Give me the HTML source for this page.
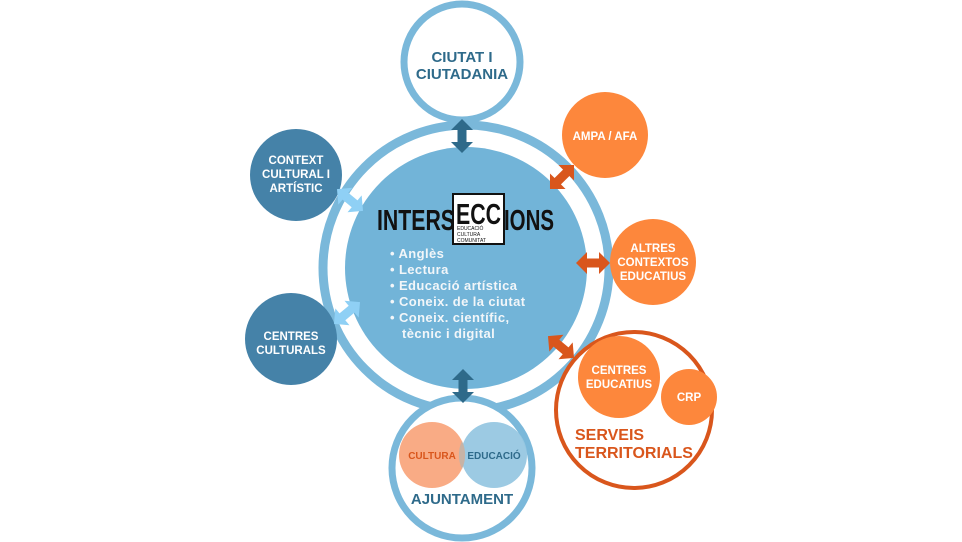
<!DOCTYPE html>
<html><head><meta charset="utf-8"><style>
html,body{margin:0;padding:0;background:#fff;width:962px;height:542px;overflow:hidden}
svg{display:block}
text{font-family:"Liberation Sans",sans-serif;font-weight:bold}
</style></head><body>
<svg width="962" height="542" viewBox="0 0 962 542">
<defs>
<g id="dar"><polygon points="0,-17 11,-6 4.5,-6 4.5,6 11,6 0,17 -11,6 -4.5,6 -4.5,-6 -11,-6" stroke-linejoin="round"/></g>
</defs>
<circle cx="466" cy="268" r="143" fill="#fff" stroke="#7ab8da" stroke-width="9"/>
<circle cx="466" cy="268" r="121" fill="#72b4d8"/>
<circle cx="462" cy="62" r="58" fill="#fff" stroke="#7ab8da" stroke-width="7"/>
<text x="462" y="62" text-anchor="middle" font-size="15" fill="#2e6a8a">CIUTAT I</text>
<text x="462" y="79" text-anchor="middle" font-size="15" fill="#2e6a8a">CIUTADANIA</text>
<circle cx="462" cy="468" r="70" fill="#fff" stroke="#7ab8da" stroke-width="7"/>
<circle cx="432" cy="455" r="33" fill="#f9ab85"/>
<circle cx="494" cy="455" r="33" fill="#97c7e2" fill-opacity="0.95"/>
<path d="M462,441 A33,33 0 0 1 462,469 A33,33 0 0 1 462,441Z" fill="#c7b3a6"/>
<text x="432" y="459" text-anchor="middle" font-size="10" fill="#d9561c">CULTURA</text>
<text x="494" y="459" text-anchor="middle" font-size="10" fill="#2e6a8a">EDUCACIÓ</text>
<text x="462" y="504" text-anchor="middle" font-size="15" fill="#2e6a8a">AJUNTAMENT</text>
<circle cx="296" cy="175" r="46" fill="#4582a8"/>
<text x="296" y="164" text-anchor="middle" font-size="11.5" fill="#fff">CONTEXT</text>
<text x="296" y="178" text-anchor="middle" font-size="11.5" fill="#fff">CULTURAL I</text>
<text x="296" y="192" text-anchor="middle" font-size="11.5" fill="#fff">ARTÍSTIC</text>
<circle cx="291" cy="339" r="46" fill="#4582a8"/>
<text x="291" y="340" text-anchor="middle" font-size="11.5" fill="#fff">CENTRES</text>
<text x="291" y="354" text-anchor="middle" font-size="11.5" fill="#fff">CULTURALS</text>
<circle cx="605" cy="135" r="43" fill="#fd873c"/>
<text x="605" y="140" text-anchor="middle" font-size="11.5" fill="#fff">AMPA / AFA</text>
<circle cx="653" cy="262" r="43" fill="#fd873c"/>
<text x="653" y="252" text-anchor="middle" font-size="11.5" fill="#fff">ALTRES</text>
<text x="653" y="266" text-anchor="middle" font-size="11.5" fill="#fff">CONTEXTOS</text>
<text x="653" y="280" text-anchor="middle" font-size="11.5" fill="#fff">EDUCATIUS</text>
<circle cx="634" cy="410" r="78" fill="#fff" stroke="#d9561c" stroke-width="4"/>
<circle cx="619" cy="377" r="41" fill="#fd873c"/>
<text x="619" y="374" text-anchor="middle" font-size="11.5" fill="#fff">CENTRES</text>
<text x="619" y="388" text-anchor="middle" font-size="11.5" fill="#fff">EDUCATIUS</text>
<circle cx="689" cy="397" r="28" fill="#fd873c"/>
<text x="689" y="401" text-anchor="middle" font-size="11.5" fill="#fff">CRP</text>
<text x="575" y="440" font-size="16" fill="#d9561c">SERVEIS</text>
<text x="575" y="458" font-size="16" fill="#d9561c">TERRITORIALS</text>
<use href="#dar" transform="translate(462,136)" fill="#2e6a8a"/>
<use href="#dar" transform="translate(463,386)" fill="#2e6a8a"/>
<use href="#dar" transform="translate(350,200) rotate(-50)" fill="#8fd0f5"/>
<use href="#dar" transform="translate(347,313) rotate(50)" fill="#8fd0f5"/>
<use href="#dar" transform="translate(562,177) rotate(45)" fill="#d9561c"/>
<use href="#dar" transform="translate(593,263) rotate(90)" fill="#d9561c"/>
<use href="#dar" transform="translate(561,347) rotate(-50)" fill="#d9561c"/>
<text x="377" y="230" font-size="29" fill="#111" textLength="78" lengthAdjust="spacingAndGlyphs">INTERS</text>
<text x="504" y="230" font-size="29" fill="#111" textLength="50" lengthAdjust="spacingAndGlyphs">IONS</text>
<rect x="453" y="194" width="51" height="50" fill="#fff" stroke="#111" stroke-width="2"/>
<text x="456" y="224" font-size="29" fill="#111" textLength="45" lengthAdjust="spacingAndGlyphs">ECC</text>
<text x="457" y="230" font-size="5" fill="#111" style="font-weight:normal">EDUCACIÓ</text>
<text x="457" y="236" font-size="5" fill="#111" style="font-weight:normal">CULTURA</text>
<text x="457" y="242" font-size="5" fill="#111" style="font-weight:normal">COMUNITAT</text>
<g font-size="13" fill="#f2f6f9" letter-spacing="0.4">
<text x="390" y="258">• Anglès</text>
<text x="390" y="274">• Lectura</text>
<text x="390" y="290">• Educació artística</text>
<text x="390" y="306">• Coneix. de la ciutat</text>
<text x="390" y="322">• Coneix. científic,</text>
<text x="402" y="338">tècnic i digital</text>
</g>
</svg>
</body></html>
